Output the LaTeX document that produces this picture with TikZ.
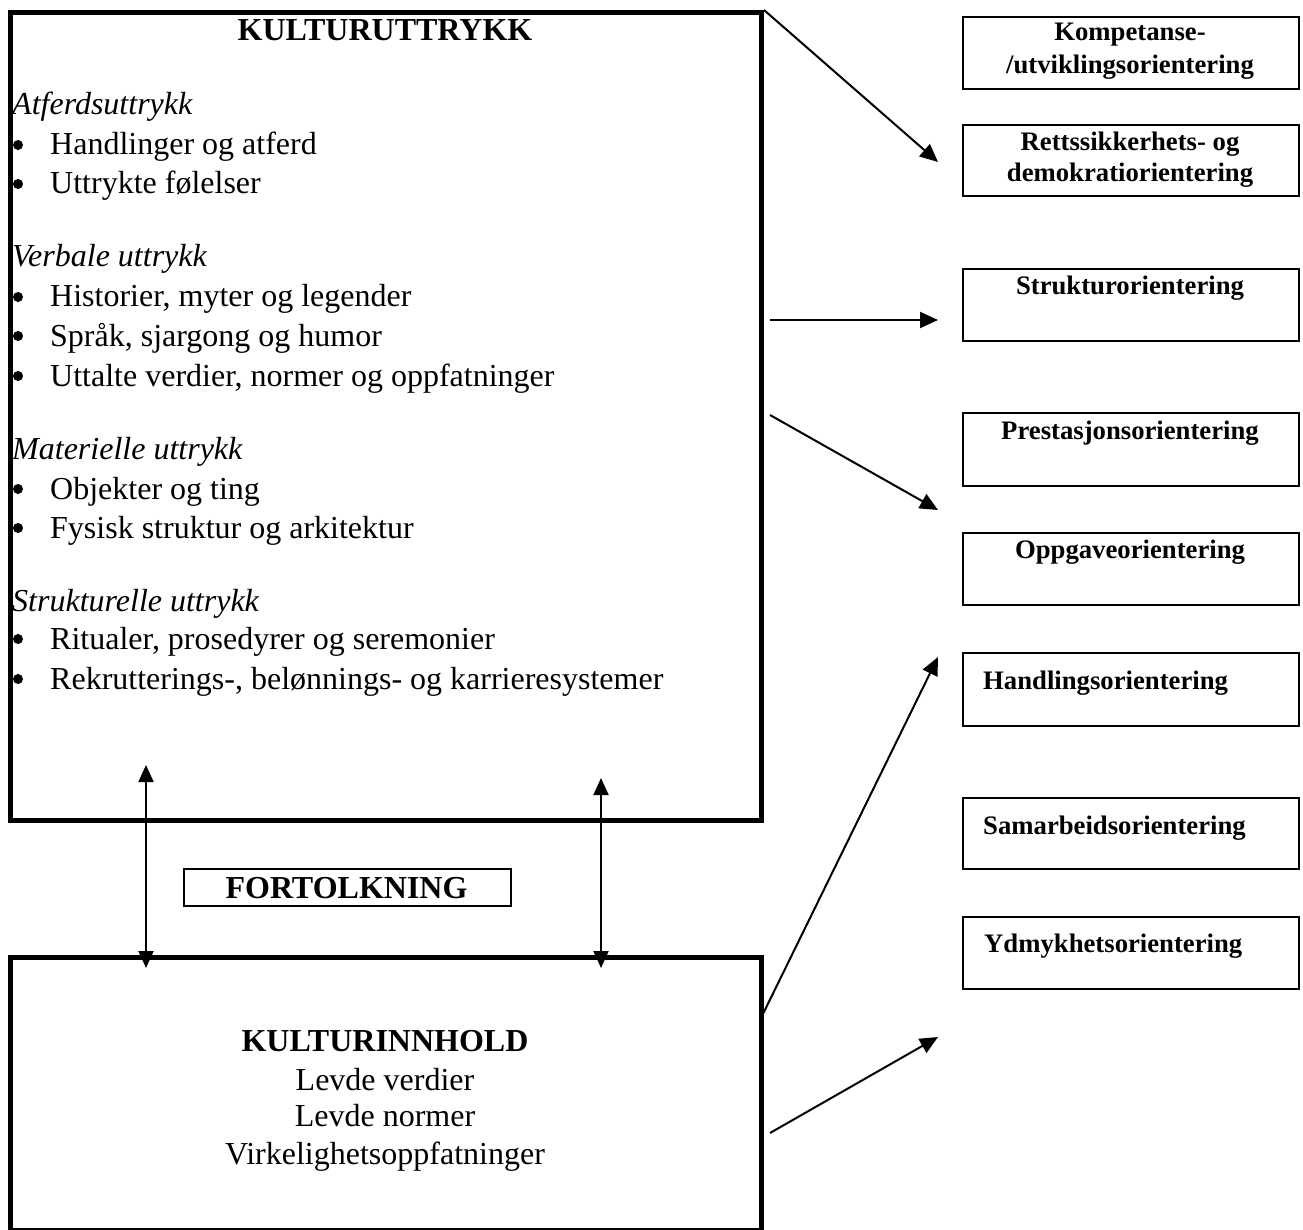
\documentclass[tikz,border=0pt]{standalone}
\usepackage{fontspec}
\setmainfont{Liberation Serif}
\usetikzlibrary{arrows.meta}
\begin{document}
\begin{tikzpicture}[x=1pt,y=-1pt,
  bigbox/.style={draw, line width=5pt, inner sep=0pt, anchor=north west},
  orbox/.style={draw, line width=2pt, inner sep=0pt, anchor=north west,
    minimum width=336pt},
  fbox/.style={draw, line width=1.8pt, inner sep=0pt, anchor=north west},
  body/.style={inner sep=0pt, anchor=base west, font=\fontsize{32pt}{38pt}\selectfont},
  head/.style={body, font=\fontsize{32pt}{38pt}\selectfont\itshape},
  ctext/.style={inner sep=0pt, anchor=base, font=\fontsize{32pt}{38pt}\selectfont},
  btitle/.style={ctext, font=\fontsize{32pt}{38pt}\selectfont\bfseries},
  otext/.style={inner sep=0pt, anchor=base, font=\fontsize{26.7pt}{30pt}\selectfont\bfseries},
  otextl/.style={otext, anchor=base west},
  conn/.style={line width=2pt, -{Triangle[length=18pt,width=16pt]}},
  dconn/.style={line width=2pt, {Triangle[length=17pt,width=15pt]}-{Triangle[length=17pt,width=15pt]}},
  bul/.style={fill=black}
]
\useasboundingbox (0,0) rectangle (1303,1230);

% left column: expressions and content
\node[bigbox, minimum width=751pt, minimum height=808pt] (uttrykk) at (8,10) {};
\node[bigbox, minimum width=751pt, minimum height=273pt] (innhold) at (8,955) {};

\node[btitle] (t1) at (385,41) {KULTURUTTRYKK};

\node[head] (h1) at (12,115) {Atferdsuttrykk};
\node[body] (b11) at (50,155) {Handlinger og atferd};
\node[body] (b12) at (50,194) {Uttrykte følelser};

\node[head] (h2) at (12,267) {Verbale uttrykk};
\node[body] (b21) at (50,307) {Historier, myter og legender};
\node[body] (b22) at (50,346) {Språk, sjargong og humor};
\node[body] (b23) at (50,386) {Uttalte verdier, normer og oppfatninger};

\node[head] (h3) at (12,459) {Materielle uttrykk};
\node[body] (b31) at (50,499) {Objekter og ting};
\node[body] (b32) at (50,538) {Fysisk struktur og arkitektur};

\node[head] (h4) at (12,611) {Strukturelle uttrykk};
\node[body] (b41) at (50,649) {Ritualer, prosedyrer og seremonier};
\node[body] (b42) at (50,689) {Rekrutterings-, belønnings- og karrieresystemer};

\foreach \yy in {155,194,307,346,386,499,538,649,689}
  \fill[bul] (18,\yy-10) circle (5);

\node[btitle] (t2) at (385,1051.5) {KULTURINNHOLD};
\node[ctext] (c1) at (385,1090) {Levde verdier};
\node[ctext] (c2) at (385,1126) {Levde normer};
\node[ctext] (c3) at (385,1164) {Virkelighetsoppfatninger};

% interpretation label
\node[fbox, minimum width=327pt, minimum height=37pt] (fort) at (183,868) {};
\node[btitle] (fortt) at (346.5,898) {FORTOLKNING};

% right column: orientations
\node[orbox, minimum height=72pt] (o1) at (962,16) {};
\node[otext] at (1130,40.5) {Kompetanse-};
\node[otext] at (1130,74) {/utviklingsorientering};

\node[orbox, minimum height=71pt] (o2) at (962,124) {};
\node[otext] at (1130,150.5) {Rettssikkerhets- og};
\node[otext] at (1130,181.5) {demokratiorientering};

\node[orbox, minimum height=72pt] (o3) at (962,268) {};
\node[otext] at (1130,295) {Strukturorientering};

\node[orbox, minimum height=73pt] (o4) at (962,412) {};
\node[otext] at (1130,439) {Prestasjonsorientering};

\node[orbox, minimum height=72pt] (o5) at (962,532) {};
\node[otext] at (1130,558) {Oppgaveorientering};

\node[orbox, minimum height=73pt] (o6) at (962,652) {};
\node[otextl] at (983,689) {Handlingsorientering};

\node[orbox, minimum height=71pt] (o7) at (962,797) {};
\node[otextl] at (983,834) {Samarbeidsorientering};

\node[orbox, minimum height=72pt] (o8) at (962,916) {};
\node[otextl] at (984,952) {Ydmykhetsorientering};

% connector ends
\coordinate (s2) at (770,320);
\coordinate (s3) at (770,415);
\coordinate (s4) at (760,1020);
\coordinate (s5) at (770,1133);
\coordinate (e1) at (938,162);
\coordinate (e2) at (938,320);
\coordinate (e3) at (938,510);
\coordinate (e4) at (938,657);
\coordinate (e5) at (938,1037);
\coordinate (d1a) at (146,765);
\coordinate (d1b) at (146,968);
\coordinate (d2a) at (601,778);
\coordinate (d2b) at (601,968);

\draw[conn] (uttrykk.north east) -- (e1);
\draw[conn] (s2) -- (e2);
\draw[conn] (s3) -- (e3);
\draw[conn] (s4) -- (e4);
\draw[conn] (s5) -- (e5);
\draw[dconn] (d1a) -- (d1b);
\draw[dconn] (d2a) -- (d2b);
\end{tikzpicture}
\end{document}
